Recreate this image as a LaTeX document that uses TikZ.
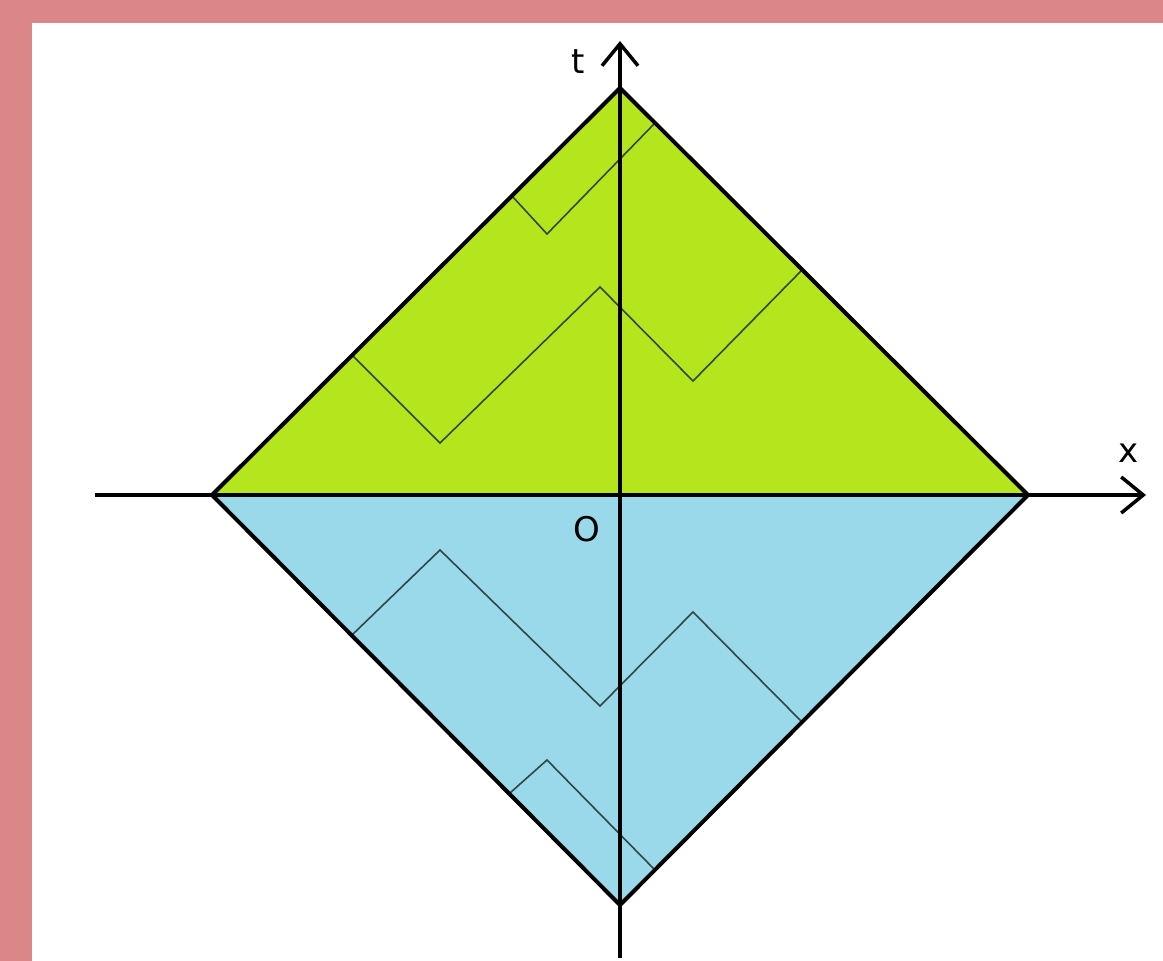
\documentclass[tikz,border=0pt]{standalone}
\usepackage{fontspec}
\setmainfont{DejaVu Sans}
\usetikzlibrary{arrows.meta}
\definecolor{frame}{RGB}{220,135,135}
\definecolor{future}{RGB}{181,230,29}
\definecolor{past}{RGB}{153,217,234}
\definecolor{zig}{RGB}{50,70,70}
\tikzset{
  edge/.style={line width=4pt, line join=miter},
  axis/.style={line width=3.5pt, -{Straight Barb[length=22pt,width=36pt,line width=3.5pt]}},
  zigline/.style={draw=zig, line width=1.6pt, line join=miter},
  lbl/.style={font=\fontsize{34}{40}\selectfont, inner sep=0pt}
}
\begin{document}
\begin{tikzpicture}[x=1pt,y=-1pt]
\useasboundingbox (0,0) rectangle (1163,961);
\fill[frame] (0,0) rectangle (1163,961);
\fill[white] (32,23) rectangle (1163,961);
\coordinate (L) at (212,495);
\coordinate (R) at (1028,495);
\coordinate (T) at (620,88);
\coordinate (B) at (620,905);
\coordinate (O) at (620,495);
\fill[future] (L) -- (T) -- (R) -- cycle;
\fill[past] (L) -- (B) -- (R) -- cycle;
% zigzags
\draw[zigline] (512,196) -- (547,234) -- (655,123);
\draw[zigline] (352,355) -- (440,443) -- (600,287) -- (693,381) -- (802,270);
\draw[zigline] (352,635) -- (440,550) -- (600,706) -- (693,612) -- (802,722);
\draw[zigline] (510,793) -- (547,760) -- (655,870);
% axes
\coordinate (xs) at (95,495);
\coordinate (xe) at (1146,495);
\coordinate (ts) at (620,958);
\coordinate (te) at (620,41);
\draw[axis] (xs) -- (xe);
\draw[axis] (ts) -- (te);
% diamond
\draw[edge] (L) -- (T) -- (R) -- (B) -- cycle;
\node[lbl] (tl) at (578,62) {t};
\node[lbl] (xl) at (1129,453) {x};
\node[lbl] (ol) at (587,529) {O};
\end{tikzpicture}
\end{document}
